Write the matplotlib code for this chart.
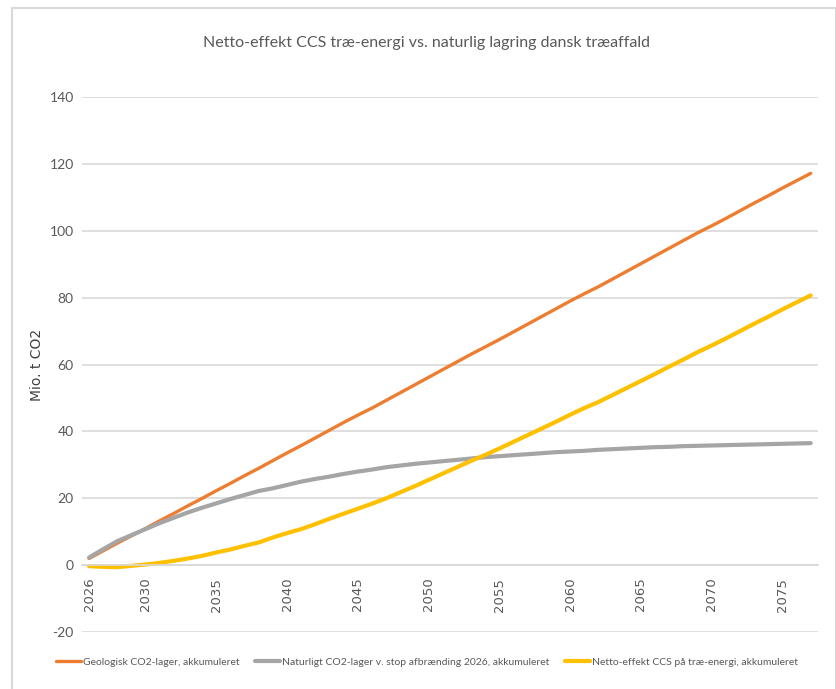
import matplotlib.pyplot as plt
from matplotlib.patches import Rectangle

years = list(range(2026, 2078))

geologisk = [2.0, 4.3, 6.6, 8.8, 11.0, 13.3, 15.5, 17.8, 20.0, 22.3,
             24.5, 26.8, 29.0, 31.3, 33.6, 35.8, 38.1, 40.4, 42.7, 44.9,
             47.0, 49.3, 51.6, 53.9, 56.2, 58.5, 60.8, 63.1, 65.3, 67.5,
             69.8, 72.1, 74.4, 76.7, 79.0, 81.2, 83.3, 85.6, 87.9, 90.2,
             92.5, 94.8, 97.1, 99.4, 101.5, 103.7, 106.0, 108.3, 110.5, 112.8,
             115.0, 117.2]

naturligt = [2.3, 4.8, 7.2, 9.0, 10.8, 12.6, 14.2, 15.8, 17.2, 18.5,
             19.8, 21.0, 22.2, 23.0, 24.0, 25.0, 25.8, 26.5, 27.3, 28.0,
             28.6, 29.3, 29.8, 30.3, 30.7, 31.1, 31.5, 31.9, 32.3, 32.6,
             32.9, 33.2, 33.5, 33.8, 34.0, 34.2, 34.5, 34.7, 34.9, 35.1,
             35.3, 35.4, 35.6, 35.7, 35.8, 35.9, 36.0, 36.1, 36.2, 36.3,
             36.4, 36.5]

netto = [-0.3, -0.5, -0.6, -0.2, 0.2, 0.7, 1.3, 2.0, 2.8, 3.8,
         4.7, 5.8, 6.8, 8.3, 9.6, 10.8, 12.3, 13.9, 15.4, 16.9,
         18.4, 20.0, 21.8, 23.6, 25.5, 27.4, 29.3, 31.2, 33.0, 34.9,
         36.9, 38.9, 40.9, 42.9, 45.0, 47.0, 48.8, 50.9, 53.0, 55.1,
         57.2, 59.4, 61.5, 63.7, 65.7, 67.8, 70.0, 72.2, 74.3, 76.5,
         78.6, 80.7]

xticks = [2026, 2030, 2035, 2040, 2045, 2050, 2055, 2060, 2065, 2070, 2075]
yticks = [-20, 0, 20, 40, 60, 80, 100, 120, 140]

slank = ['Lato', 'DejaVu Sans']
txt_col = '#595959'

fig = plt.figure(figsize=(8.37, 6.89), dpi=100)
ax = fig.add_axes([0.098, 0.0827, 0.879, 0.7763])

# ramme om diagrammet
fig.patches.append(Rectangle((12 / 837, -0.01), (836 - 12) / 837, 1 - 8 / 689 + 0.01,
                             transform=fig.transFigure, fill=False,
                             edgecolor='#D9D9D9', linewidth=1.5))

ax.plot(years, geologisk, color='#ED7D31', linewidth=2.4,
        label='Geologisk CO2-lager, akkumuleret', solid_capstyle='round')
ax.plot(years, naturligt, color='#A5A5A5', linewidth=3.0,
        label='Naturligt CO2-lager v. stop afbrænding 2026, akkumuleret', solid_capstyle='round')
ax.plot(years, netto, color='#FFC000', linewidth=3.0,
        label='Netto-effekt CCS på træ-energi, akkumuleret', solid_capstyle='round')

# x-aksen krydser ved 0 (skal stå før tick-labels, ellers nulstilles de)
for s in ['top', 'right', 'left']:
    ax.spines[s].set_visible(False)
ax.spines['bottom'].set_position(('data', 0))
ax.spines['bottom'].set_color('#D9D9D9')
ax.spines['bottom'].set_linewidth(1.2)

ax.set_xlim(2025.5, 2077.5)
ax.set_ylim(-20, 140)
ax.set_yticks(yticks)
ax.set_yticklabels([str(v) for v in yticks], family=slank, fontsize=10, color=txt_col)
ax.set_xticks(xticks)
ax.set_xticklabels([str(v) for v in xticks], rotation=90, fontsize=9.5,
                   color=txt_col, va='top', ha='center')
ax.tick_params(axis='x', length=0, pad=9)
ax.tick_params(axis='y', length=0, pad=6)

ax.grid(axis='y', color='#D9D9D9', linewidth=1.2)
ax.set_axisbelow(True)

ax.set_ylabel('Mio. t CO2', fontsize=10, color='#404040', labelpad=4)

fig.text(0.51, 0.937, 'Netto-effekt CCS træ-energi vs. naturlig lagring dansk træaffald',
         ha='center', va='center', fontsize=11.5, color='#595959', family=slank)

fig.legend(loc='center', bbox_to_anchor=(0.51, 0.039), ncol=3, frameon=False,
           prop={'family': slank, 'size': 7.5}, labelcolor=txt_col,
           handlelength=2.4, handletextpad=0.2, columnspacing=1.5)

fig.savefig('out.png', dpi=100)
